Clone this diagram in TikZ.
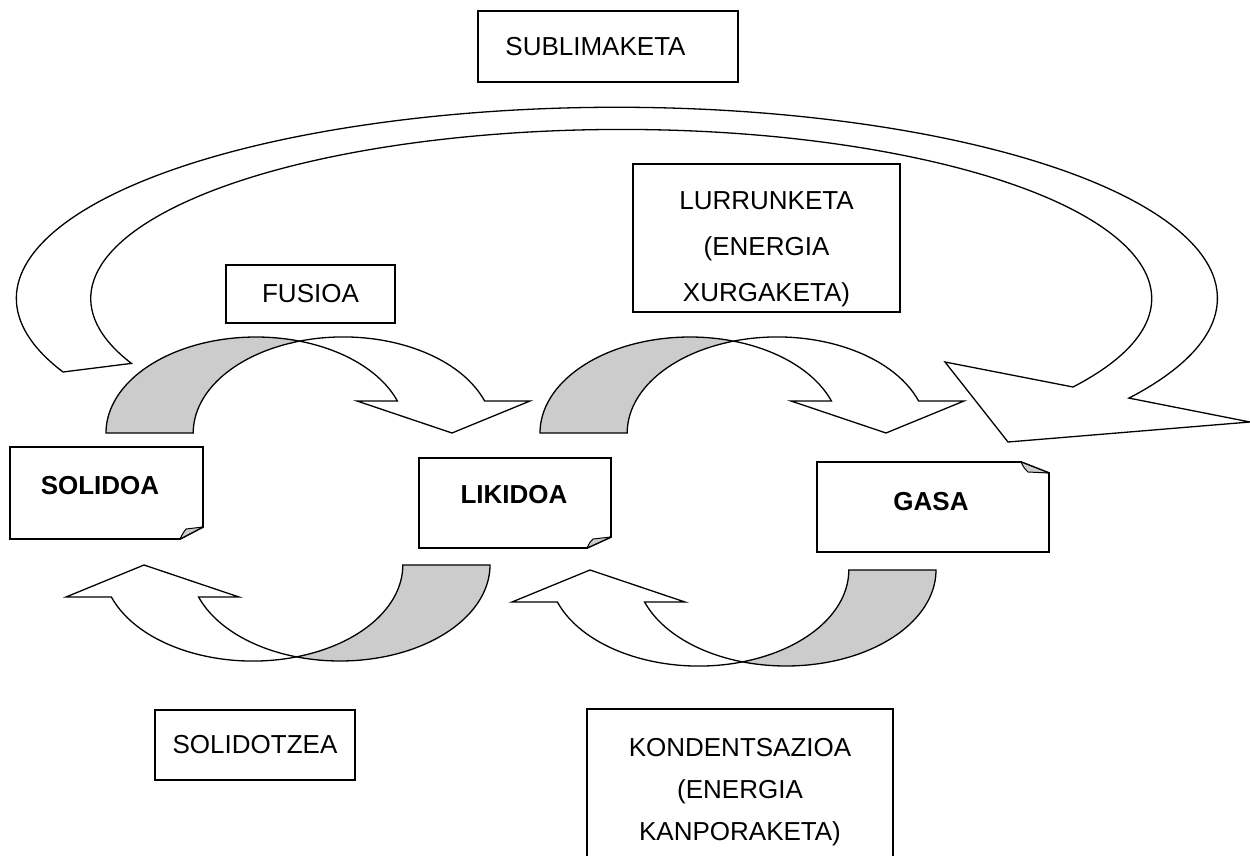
\documentclass[tikz,border=0pt]{standalone}
\usepackage{fontspec}
\setmainfont{Liberation Sans}
\usepackage{xcolor}
\definecolor{shade}{HTML}{CCCCCC}

% curved phase arrow, local origin = centre of the back ellipse
\newcommand{\phasebend}[1]{%
	\begin{scope}[#1]
		\path[bendshade] (-150,0) arc[start angle=-180,end angle=-73.1,x radius=150,y radius=96]
			arc[start angle=-106.9,end angle=-180,x radius=150,y radius=96] -- cycle;
		\path[bendline] (43.6,-91.9) arc[start angle=-106.9,end angle=-19.47,x radius=150,y radius=96]
			-- (274,-32) -- (196,0) -- (101,-32) -- (141.4,-32)
			arc[start angle=-19.47,end angle=-73.1,x radius=150,y radius=96] -- cycle;
	\end{scope}}

\begin{document}
\begin{tikzpicture}[x=1pt,y=-1pt,
		bendline/.style={draw,line width=1.3pt,fill=white},
		bendshade/.style={bendline,fill=shade},
		stagebox/.style={draw,line width=1.6pt,fill=white,inner sep=0pt,font=\fontsize{26}{44}\selectfont,align=center},
		notebox/.style={draw,line width=1.8pt,fill=white,line join=miter},
		notefold/.style={draw,line width=1pt,fill=shade,line join=round},
		stagetext/.style={inner sep=0pt,font=\fontsize{26}{44}\selectfont\bfseries}]
	\fill[white] (0,0) rectangle (1250,856);
	\clip (0,0) rectangle (1250,856);
	
	% big arrow
	\path[bendline] (63,372) arc[start angle=-202.7,end angle=31.5,x radius=600.5,y radius=191]
		-- (1250,422) -- (1008,442) -- (945,362) -- (1073,387)
		arc[start angle=31.6,end angle=-202.6,x radius=530.5,y radius=169] -- cycle;
	
	\phasebend{shift={(256,433)}}
	\phasebend{shift={(690,433)}}
	\phasebend{shift={(340,565)},rotate=180}
	\phasebend{shift={(786,570)},rotate=180}
	
	\node[stagebox,minimum width=260pt,minimum height=71pt] (sublim) at (608,46.5) {SUBLIMAKETA\hspace*{25pt}};
	\node[stagebox,minimum width=169pt,minimum height=58pt] (fusion) at (310.5,294) {FUSIOA};
	\node[stagebox,minimum width=267pt,minimum height=148pt] (vapor) at (766.5,238) {};
	\node[inner sep=0pt,align=center,font=\fontsize{26}{46}\selectfont] (vaportext) at (766.5,249) {LURRUNKETA\\(ENERGIA\\XURGAKETA)};
	\node[stagebox,minimum width=200pt,minimum height=70pt] (solidif) at (255,745) {SOLIDOTZEA};
	\node[stagebox,minimum width=306pt,minimum height=180pt,anchor=north] (cond) at (740,708) {};
	\node[inner sep=0pt,align=center,font=\fontsize{26}{42}\selectfont] (condtext) at (740,792) {KONDENTSAZIOA\\(ENERGIA\\KANPORAKETA)};
	
	% folded notes
	\path[notebox] (10,447) -- (203,447) -- (203,527) -- (180,539) -- (10,539) -- cycle;
	\path[notefold] (180,539) .. controls (183,533) .. (186,529) -- (203,527) -- cycle;
	\node[stagetext] (solid) at (100,486) {SOLIDOA};
	
	\path[notebox] (419,458) -- (611,458) -- (611,537) -- (587,548) -- (419,548) -- cycle;
	\path[notefold] (587,548) .. controls (590,542) .. (593,539) -- (611,537) -- cycle;
	\node[stagetext] (liquid) at (514,495) {LIKIDOA};
	
	\path[notebox] (817,462) -- (1021,462) -- (1049,473) -- (1049,552) -- (817,552) -- cycle;
	\path[notefold] (1021,462) .. controls (1024,468) .. (1028,472) -- (1049,473) -- cycle;
	\node[stagetext] (gas) at (931,502) {GASA};
\end{tikzpicture}
\end{document}
